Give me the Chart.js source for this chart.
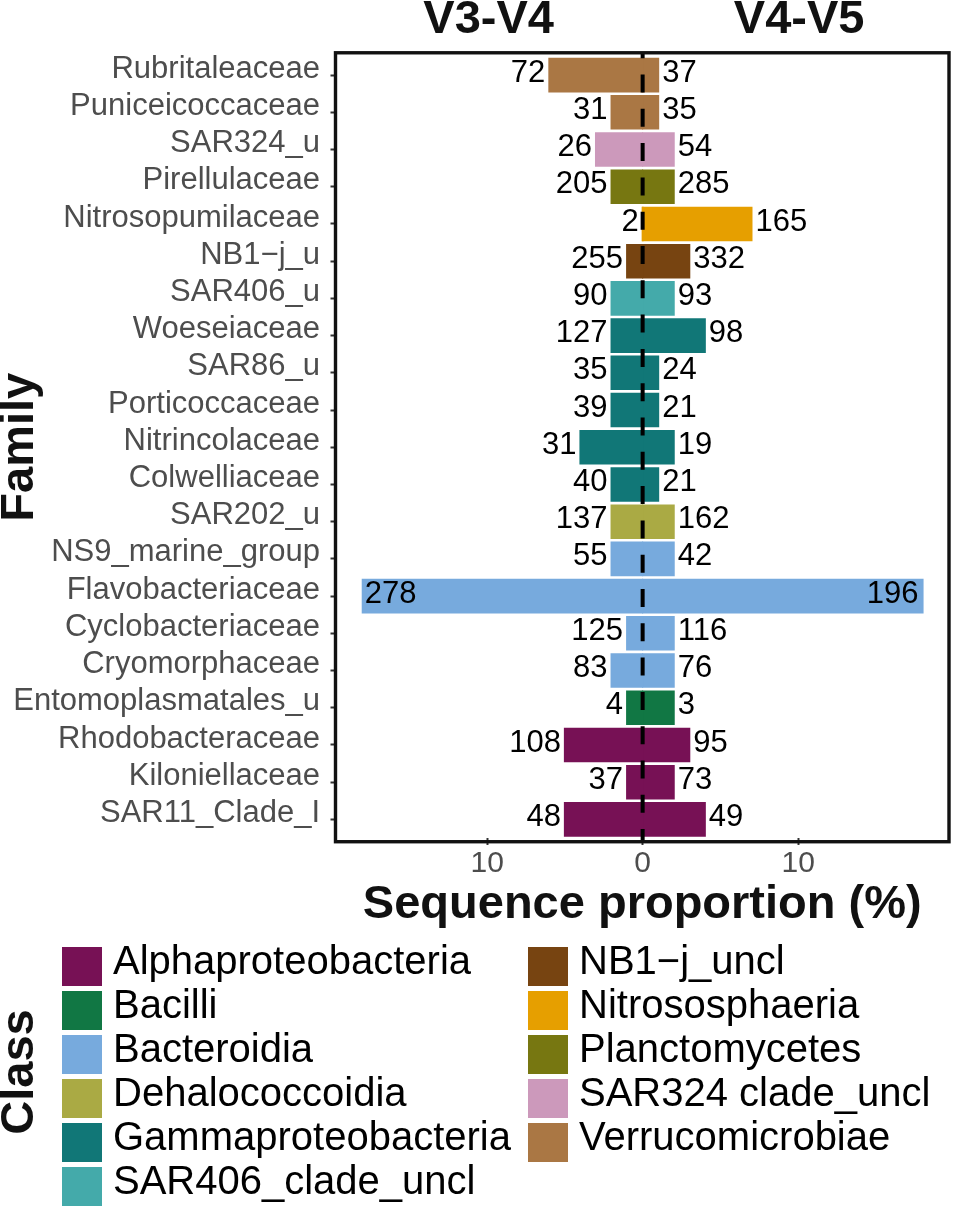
<!DOCTYPE html>
<html>
<head>
<meta charset="utf-8">
<script src="https://cdn.jsdelivr.net/npm/chart.js@4.4.1/dist/chart.umd.min.js"></script>
<style>
  html, body { margin: 0; padding: 0; background: #fff; }
  #wrap { width: 955px; height: 1209px; position: relative; }
</style>
</head>
<body>
<div id="wrap"><canvas id="chart"></canvas></div>
<script>
const families = [
  "Rubritaleaceae", "Puniceicoccaceae", "SAR324_u", "Pirellulaceae",
  "Nitrosopumilaceae", "NB1\u2212j_u", "SAR406_u", "Woeseiaceae",
  "SAR86_u", "Porticoccaceae", "Nitrincolaceae", "Colwelliaceae",
  "SAR202_u", "NS9_marine_group", "Flavobacteriaceae", "Cyclobacteriaceae",
  "Cryomorphaceae", "Entomoplasmatales_u", "Rhodobacteraceae",
  "Kiloniellaceae", "SAR11_Clade_I",
];
// class index of each family (into classes below)
const familyClass = [10, 10, 9, 8, 7, 6, 5, 4, 4, 4, 4, 4, 3, 2, 2, 2, 2, 1, 0, 0, 0];

// sequence proportion (%)
const v34Pct = [6, 2, 3, 2, 0, 1, 2, 2, 2, 2, 4, 2, 2, 2, 18, 1, 2, 1, 5, 1, 5];
const v45Pct = [1, 1, 2, 2, 7, 3, 2, 4, 1, 1, 2, 1, 2, 2, 18, 2, 2, 2, 3, 2, 4];
// sequence counts shown as labels
const v34Count = [72, 31, 26, 205, 2, 255, 90, 127, 35, 39, 31, 40, 137, 55, 278, 125, 83, 4, 108, 37, 48];
const v45Count = [37, 35, 54, 285, 165, 332, 93, 98, 24, 21, 19, 21, 162, 42, 196, 116, 76, 3, 95, 73, 49];

const classes = [
  "Alphaproteobacteria", "Bacilli", "Bacteroidia", "Dehalococcoidia",
  "Gammaproteobacteria", "SAR406_clade_uncl", "NB1\u2212j_uncl",
  "Nitrososphaeria", "Planctomycetes", "SAR324 clade_uncl", "Verrucomicrobiae",
];
const classColors = [
  "#771155", "#117744", "#77AADD", "#AAAA44", "#117777", "#44AAAA",
  "#774411", "#E69F00", "#777711", "#CC99BB", "#AA7744",
];
const regions = ["V3-V4", "V4-V5"];
const xTicks = [-10, 0, 10];

const FONT = '"Liberation Sans", Arial, Helvetica, sans-serif';
const barColors = familyClass.map(c => classColors[c]);

const decor = {
  id: "decor",
  afterDatasetsDraw(chart) {
    const { ctx, chartArea: a, scales: { x } } = chart;
    const pitch = (a.bottom - a.top) / families.length;
    const top = a.top - pitch * 0.1;
    const bottom = a.bottom + pitch * 0.1;

    ctx.save();
    ctx.font = "31px " + FONT;
    ctx.fillStyle = "#000";
    ctx.textBaseline = "middle";
    chart.getDatasetMeta(0).data.forEach((bar, i) => {
      const txt = String(v34Count[i]);
      const w = ctx.measureText(txt).width;
      if (bar.x - 4 - w < a.left) {
        ctx.textAlign = "left";
        ctx.fillText(txt, bar.x + 2, bar.y - 2);
      } else {
        ctx.textAlign = "right";
        ctx.fillText(txt, bar.x - 4, bar.y - 2);
      }
    });
    chart.getDatasetMeta(1).data.forEach((bar, i) => {
      const txt = String(v45Count[i]);
      const w = ctx.measureText(txt).width;
      if (bar.x + 4 + w > a.right) {
        ctx.textAlign = "right";
        ctx.fillText(txt, bar.x - 4, bar.y - 2);
      } else {
        ctx.textAlign = "left";
        ctx.fillText(txt, bar.x + 4, bar.y - 2);
      }
    });

    // dashed zero line
    const x0 = x.getPixelForValue(0);
    ctx.strokeStyle = "#000";
    ctx.lineWidth = 4;
    ctx.setLineDash([18, 16.3]);
    ctx.lineDashOffset = 12.6;
    ctx.beginPath();
    ctx.moveTo(x0, top);
    ctx.lineTo(x0, bottom);
    ctx.stroke();

    // panel border
    ctx.setLineDash([]);
    ctx.lineWidth = 3.4;
    ctx.strokeStyle = "#111";
    ctx.strokeRect(a.left, top, a.right - a.left, bottom - top);
    ctx.restore();
  },
  afterDraw(chart) {
    const { ctx, scales: { x } } = chart;
    ctx.save();
    // region titles
    ctx.font = "bold 47px " + FONT;
    ctx.fillStyle = "#111";
    ctx.textAlign = "center";
    ctx.textBaseline = "middle";
    ctx.fillText(regions[0], x.getPixelForValue(-10) + 1.5, 20);
    ctx.fillText(regions[1], x.getPixelForValue(10) + 1, 20);

    // legend title
    ctx.save();
    ctx.translate(20, 1072);
    ctx.rotate(-Math.PI / 2);
    ctx.fillText("Class", 0, 0);
    ctx.restore();

    // legend keys, two columns filled top to bottom
    ctx.font = "40px " + FONT;
    ctx.textAlign = "left";
    ctx.fillStyle = "#000";
    classes.forEach((name, i) => {
      const col = i < 6 ? 0 : 1;
      const row = i < 6 ? i : i - 6;
      const kx = col === 0 ? 62 : 528;
      const ky = 947 + row * 44;
      ctx.fillStyle = classColors[i];
      ctx.fillRect(kx, ky, 40, 39);
      ctx.fillStyle = "#000";
      ctx.fillText(name, kx + 51, ky + 16);
    });
    ctx.restore();
  },
};

new Chart(document.getElementById("chart"), {
  type: "bar",
  data: {
    labels: families,
    datasets: [
      {
        label: regions[0],
        data: v34Pct.map(v => -v),
        backgroundColor: barColors,
        barPercentage: 0.875,
        categoryPercentage: 1,
        inflateAmount: 1,
      },
      {
        label: regions[1],
        data: v45Pct,
        backgroundColor: barColors,
        barPercentage: 0.875,
        categoryPercentage: 1,
        inflateAmount: 1,
      },
    ],
  },
  options: {
    indexAxis: "y",
    responsive: true,
    maintainAspectRatio: false,
    animation: false,
    devicePixelRatio: 1,
    layout: { padding: { top: 56.5, left: 0, right: 6, bottom: 271 } },
    plugins: { legend: { display: false }, tooltip: { enabled: false } },
    scales: {
      x: {
        stacked: true,
        min: -19.75,
        max: 19.7,
        afterBuildTicks: scale => {
          scale.ticks = xTicks.map(v => ({ value: v }));
        },
        afterFit: scale => { scale.height = 100; },
        border: { display: false },
        grid: { drawOnChartArea: false, tickLength: 7, tickColor: "#333", tickWidth: 2 },
        ticks: {
          color: "#4D4D4D",
          font: { family: FONT, size: 30 },
          padding: 1,
          maxRotation: 0,
          callback: v => String(Math.abs(v)),
        },
        title: {
          display: true,
          text: "Sequence proportion (%)",
          color: "#111",
          font: { family: FONT, size: 47, weight: "bold", lineHeight: 1 },
          padding: { top: 0, bottom: 9.5 },
        },
      },
      y: {
        stacked: true,
        afterFit: scale => { scale.width = 335.5; },
        border: { display: false },
        grid: { offset: false, drawOnChartArea: false, tickLength: 5, tickColor: "#333", tickWidth: 2 },
        ticks: {
          color: "#4D4D4D",
          font: { family: FONT, size: 31 },
          padding: 10.5,
          labelOffset: -6,
          autoSkip: false,
        },
        title: {
          display: true,
          text: "Family",
          color: "#111",
          font: { family: FONT, size: 47, weight: "bold", lineHeight: 1 },
          padding: { top: -3.5, bottom: 0 },
        },
      },
    },
  },
  plugins: [decor],
});
</script>
</body>
</html>
